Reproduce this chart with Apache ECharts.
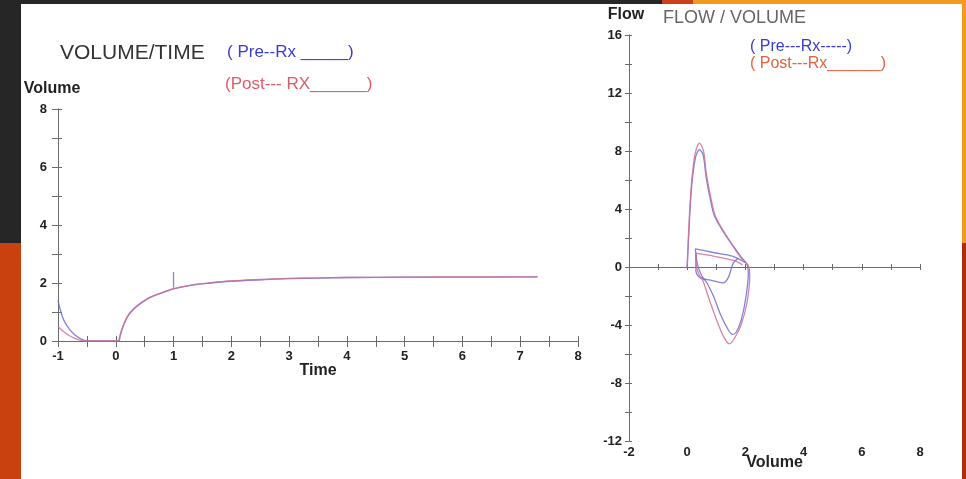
<!DOCTYPE html>
<html>
<head>
<meta charset="utf-8">
<title>Volume/Time - Flow/Volume</title>
<script src="https://cdn.jsdelivr.net/npm/echarts@6/dist/echarts.min.js"></script>
<style>
html, body { margin: 0; padding: 0; background: #fff; }
#main { width: 966px; height: 479px; }
</style>
</head>
<body>
<div id="main"></div>
<script>
/**
 * 容积/时间 曲线, [时间, 容积]
 */
var preTail = [[-1, 1.4], [-0.95, 1.0], [-0.9, 0.72], [-0.8, 0.4], [-0.7, 0.2], [-0.6, 0.07], [-0.5, 0], [0.05, 0]];
var postTail = [[-1, 0.5], [-0.9, 0.32], [-0.8, 0.18], [-0.7, 0.08], [-0.6, 0.02], [-0.5, 0], [0.05, 0]];
var preVolTime = [[0.06, 0], [0.1, 0.35], [0.2, 0.82], [0.3, 1.08], [0.45, 1.32], [0.6, 1.5], [0.8, 1.66], [1, 1.8], [1.3, 1.92], [1.6, 1.99], [2, 2.06], [2.5, 2.11], [3, 2.15], [3.5, 2.17], [4, 2.19], [5, 2.2], [6, 2.2], [7, 2.21], [7.3, 2.21]];
var postVolTime = [[0.05, 0], [0.1, 0.38], [0.2, 0.85], [0.3, 1.1], [0.45, 1.34], [0.6, 1.52], [0.8, 1.67], [1, 1.81], [1.3, 1.93], [1.6, 2.0], [2, 2.07], [2.5, 2.12], [3, 2.16], [3.5, 2.18], [4, 2.19], [5, 2.2], [6, 2.21], [7, 2.21], [7.3, 2.21]];
var spikeMark = [[1, 1.84], [1, 2.38]];

/**
 * 流量/容积 环, [容积, 流量]
 */
var preLoop = [[0, 0], [0.06, 2.5], [0.15, 5.5], [0.28, 7.5], [0.42, 8.1], [0.55, 7.7], [0.65, 6.2], [0.78, 4.8], [0.92, 3.6], [1.1, 2.9], [1.35, 2.1], [1.6, 1.4], [1.85, 0.7], [2.05, 0.2], [2.1, -0.5], [2.0, -2.3], [1.85, -3.7], [1.68, -4.5], [1.55, -4.65], [1.4, -4.3], [1.15, -3.3], [0.9, -2.0], [0.68, -1.1], [0.5, -0.6], [0.35, 0.2], [0.28, 1.25], [0.9, 1.0], [1.55, 0.75], [2.0, 0.3]];
var preInner = [[0.3, 0.9], [0.3, -0.3], [0.45, -0.75], [0.8, -0.9], [1.24, -1.1], [1.42, -0.7], [1.58, 0.25], [1.75, 0.6]];
var postLoop = [[0, 0], [0.05, 2.5], [0.14, 5.6], [0.27, 7.8], [0.42, 8.55], [0.56, 8.0], [0.66, 6.4], [0.8, 4.9], [0.95, 3.6], [1.15, 2.8], [1.4, 2.0], [1.65, 1.2], [1.9, 0.5], [2.1, 0.1], [2.15, -0.6], [2.05, -2.5], [1.85, -4.0], [1.6, -5.0], [1.45, -5.3], [1.25, -4.8], [1.0, -3.6], [0.75, -2.2], [0.55, -1.0], [0.4, -0.5], [0.3, 0.3], [0.3, 0.95], [0.9, 0.75], [1.6, 0.45], [1.9, 0.15]];

// 刻度标签
var timeLabels = [-1, 0, 1, 2, 3, 4, 5, 6, 7, 8];
var volumeLabels = [0, 2, 4, 6, 8];
var flowLabels = [-12, -8, -4, 0, 4, 8, 12, 16];
var loopVolLabels = [-2, 0, 2, 4, 6, 8];

var FONT = 'Arial, "Liberation Sans", sans-serif';
var AXIS_COLOR = '#6b6b6b';
var PRE_COLOR = '#6c6cd0';
var POST_COLOR = '#cf7098';

function labelFrom(list) {
	return function (v) {
		return list.indexOf(Math.round(v * 100) / 100) > -1 ? String(v) : '';
	};
}

var labelStyle = { color: '#222', fontFamily: FONT, fontWeight: 'bold', fontSize: 13 };
var nameStyle = { color: '#222', fontFamily: FONT, fontWeight: 'bold', fontSize: 16 };

function lineSeries(name, xi, yi, data, color) {
	return {
		name: name,
		type: 'line',
		xAxisIndex: xi,
		yAxisIndex: yi,
		data: data,
		smooth: 0.3,
		showSymbol: false,
		silent: true,
		lineStyle: { color: color, width: 1.3, opacity: 0.85 }
	};
}

// 页面框架色块
function block(x, y, w, h, color) {
	return { type: 'rect', shape: { x: x, y: y, width: w, height: h }, style: { fill: color }, silent: true };
}

function txt(x, y, text, font, color) {
	return { type: 'text', left: x, top: y, style: { text: text, font: font, fill: color }, silent: true };
}

var myChart = echarts.init(document.getElementById('main'));

var option = {
	backgroundColor: '#ffffff',
	animation: false,
	graphic: [
		block(0, 0, 662, 4, '#262626'),
		block(662, 0, 31, 4, '#c9401b'),
		block(693, 0, 273, 4, '#f29a1f'),
		block(0, 0, 21, 243, '#262626'),
		block(0, 243, 21, 236, '#c8410f'),
		block(962, 0, 4, 243, '#f29a1f'),
		block(962, 243, 4, 236, '#b02b12'),
		txt(60, 43, 'VOLUME/TIME', '21px ' + FONT, '#333'),
		txt(227, 44, '( Pre--Rx _____)', '17px ' + FONT, '#3b3bd6'),
		txt(225, 76, '(Post--- RX______)', '17px ' + FONT, '#e05a66'),
		txt(663, 9, 'FLOW / VOLUME', '18px ' + FONT, '#666'),
		txt(750, 39, '( Pre---Rx-----)', '16px ' + FONT, '#3b3bd6'),
		txt(750, 56, '( Post---Rx______)', '16px ' + FONT, '#e0643f')
	],
	grid: [
		{ left: 58, right: 388, top: 109, bottom: 138, outerBoundsMode: 'none' },
		{ left: 629, right: 46, top: 35, bottom: 38, outerBoundsMode: 'none' }
	],
	xAxis: [
		{
			gridIndex: 0, type: 'value', min: -1, max: 8, interval: 0.5, position: 'bottom',
			axisLine: { onZero: false, lineStyle: { color: AXIS_COLOR } },
			axisTick: { inside: false, length: 6, lineStyle: { color: AXIS_COLOR } },
			axisLabel: Object.assign({ formatter: labelFrom(timeLabels), margin: 9 }, labelStyle),
			splitLine: { show: false },
			name: 'Time', nameLocation: 'middle', nameGap: 22, nameMoveOverlap: false, nameTextStyle: nameStyle
		},
		{
			gridIndex: 0, type: 'value', min: -1, max: 8, interval: 0.5, position: 'bottom',
			axisLine: { onZero: false, lineStyle: { color: AXIS_COLOR } },
			axisTick: { inside: true, length: 5, lineStyle: { color: AXIS_COLOR } },
			axisLabel: { show: false },
			splitLine: { show: false }
		},
		{
			gridIndex: 1, type: 'value', min: -2, max: 8, interval: 1, position: 'bottom',
			axisLine: { show: false, onZero: false },
			axisTick: { show: false },
			axisLabel: Object.assign({ formatter: labelFrom(loopVolLabels), margin: 5 }, labelStyle),
			splitLine: { show: false },
			name: 'Volume', nameLocation: 'middle', nameGap: 14, nameMoveOverlap: false, nameTextStyle: nameStyle
		},
		{
			gridIndex: 1, type: 'value', min: -2, max: 8, interval: 1, position: 'bottom',
			axisLine: { onZero: true, onZeroAxisIndex: 2, lineStyle: { color: AXIS_COLOR } },
			axisTick: { inside: false, length: 3, lineStyle: { color: AXIS_COLOR } },
			axisLabel: { show: false },
			splitLine: { show: false }
		},
		{
			gridIndex: 1, type: 'value', min: -2, max: 8, interval: 1, position: 'bottom',
			axisLine: { onZero: true, onZeroAxisIndex: 2, lineStyle: { color: AXIS_COLOR } },
			axisTick: { inside: true, length: 3, lineStyle: { color: AXIS_COLOR } },
			axisLabel: { show: false },
			splitLine: { show: false }
		}
	],
	yAxis: [
		{
			gridIndex: 0, type: 'value', min: 0, max: 8, interval: 1, position: 'left',
			axisLine: { onZero: false, lineStyle: { color: AXIS_COLOR } },
			axisTick: { inside: false, length: 6, lineStyle: { color: AXIS_COLOR } },
			axisLabel: Object.assign({ formatter: labelFrom(volumeLabels), margin: 11 }, labelStyle),
			splitLine: { show: false },
			name: 'Volume', nameLocation: 'end', nameGap: 12,
			nameTextStyle: Object.assign({ padding: [0, 12, 0, 0] }, nameStyle)
		},
		{
			gridIndex: 0, type: 'value', min: 0, max: 8, interval: 1, position: 'left',
			axisLine: { onZero: false, lineStyle: { color: AXIS_COLOR } },
			axisTick: { inside: true, length: 4, lineStyle: { color: AXIS_COLOR } },
			axisLabel: { show: false },
			splitLine: { show: false }
		},
		{
			gridIndex: 1, type: 'value', min: -12, max: 16, interval: 2, position: 'left',
			axisLine: { onZero: false, lineStyle: { color: AXIS_COLOR } },
			axisTick: { inside: false, length: 4, lineStyle: { color: AXIS_COLOR } },
			axisLabel: Object.assign({ formatter: labelFrom(flowLabels), margin: 7 }, labelStyle),
			splitLine: { show: false },
			name: 'Flow', nameLocation: 'end', nameGap: 12,
			nameTextStyle: Object.assign({ padding: [0, 6, 0, 0] }, nameStyle)
		},
		{
			gridIndex: 1, type: 'value', min: -12, max: 16, interval: 2, position: 'left',
			axisLine: { onZero: false, lineStyle: { color: AXIS_COLOR } },
			axisTick: { inside: true, length: 3, lineStyle: { color: AXIS_COLOR } },
			axisLabel: { show: false },
			splitLine: { show: false }
		}
	],
	series: [
		lineSeries('Pre-Rx', 0, 0, preTail, PRE_COLOR),
		lineSeries('Post-Rx', 0, 0, postTail, POST_COLOR),
		lineSeries('Pre-Rx', 0, 0, preVolTime, PRE_COLOR),
		lineSeries('Post-Rx', 0, 0, postVolTime, POST_COLOR),
		lineSeries('mark', 0, 0, spikeMark, '#8a6fa5'),
		lineSeries('Pre-Rx', 3, 2, preLoop, PRE_COLOR),
		lineSeries('Pre-Rx', 3, 2, preInner, PRE_COLOR),
		lineSeries('Post-Rx', 3, 2, postLoop, POST_COLOR)
	]
};

myChart.setOption(option);
</script>
</body>
</html>
